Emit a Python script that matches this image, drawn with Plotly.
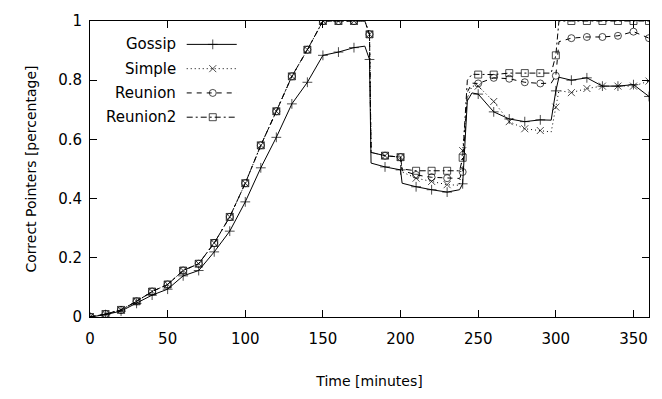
import plotly.graph_objects as go

minutes = [0, 10, 20, 30, 40, 50, 60, 70, 80, 90, 100, 110, 120, 130, 140, 150, 160, 170,
           177, 180, 181, 190, 200, 201, 210, 220, 230, 238, 240, 243, 246, 250, 260, 270,
           280, 290, 297, 300, 302, 310, 320, 330, 340, 350, 360]

gossip = [0, 0.008, 0.02, 0.046, 0.074, 0.094, 0.139, 0.157, 0.22, 0.29, 0.389, 0.504, 0.607,
          0.72, 0.793, 0.884, 0.895, 0.91, 0.915, 0.87, 0.52, 0.507, 0.497, 0.452, 0.44, 0.43,
          0.422, 0.43, 0.45, 0.73, 0.757, 0.753, 0.693, 0.669, 0.66, 0.666, 0.665, 0.764, 0.81,
          0.80, 0.808, 0.78, 0.78, 0.785, 0.745]

simple = [0, 0.01, 0.024, 0.053, 0.086, 0.11, 0.157, 0.18, 0.25, 0.338, 0.452, 0.58, 0.695,
          0.813, 0.903, 1.0, 1.0, 1.0, 1.0, 0.955, 0.556, 0.545, 0.54, 0.49, 0.469, 0.458,
          0.447, 0.445, 0.562, 0.74, 0.78, 0.78, 0.728, 0.66, 0.636, 0.63, 0.625, 0.709, 0.765,
          0.758, 0.772, 0.78, 0.78, 0.78, 0.797]

reunion = [0, 0.01, 0.024, 0.053, 0.086, 0.11, 0.157, 0.18, 0.25, 0.338, 0.452, 0.58, 0.695,
           0.813, 0.903, 1.0, 1.0, 1.0, 1.0, 0.955, 0.556, 0.545, 0.54, 0.495, 0.48, 0.472,
           0.469, 0.468, 0.49, 0.76, 0.79, 0.789, 0.808, 0.805, 0.793, 0.789, 0.79, 0.815, 0.93,
           0.942, 0.946, 0.946, 0.95, 0.964, 0.942]

reunion2 = [0, 0.01, 0.024, 0.053, 0.086, 0.11, 0.157, 0.18, 0.25, 0.338, 0.452, 0.58, 0.695,
            0.813, 0.903, 1.0, 1.0, 1.0, 1.0, 0.955, 0.556, 0.545, 0.54, 0.50, 0.494, 0.494,
            0.494, 0.494, 0.538, 0.80, 0.82, 0.819, 0.819, 0.824, 0.824, 0.824, 0.824, 0.884, 1.0,
            1.0, 1.0, 1.0, 1.0, 1.0, 1.0]

series_names = ["Gossip", "Simple", "Reunion", "Reunion2"]
series_values = [gossip, simple, reunion, reunion2]
x_ticks = [0, 50, 100, 150, 200, 250, 300, 350]
y_ticks = [0, 0.2, 0.4, 0.6, 0.8, 1]

styles = [
    dict(dash="solid", symbol="cross-thin-open"),
    dict(dash="1px,3px", symbol="x-thin-open"),
    dict(dash="5px,5px", symbol="circle-open"),
    dict(dash="6px,3px,2px,3px", symbol="square-open"),
]

FONT = "DejaVu Sans"
marker_sizes = [7 if t % 10 == 0 else 0 for t in minutes]

fig = go.Figure()
for name, vals, st in zip(series_names, series_values, styles):
    fig.add_trace(go.Scatter(
        x=minutes, y=vals, mode="lines+markers", name=name, showlegend=False,
        line=dict(color="black", width=1, dash=st["dash"]),
        marker=dict(symbol=st["symbol"], size=marker_sizes, color="black",
                    line=dict(color="black", width=1)),
    ))

# custom gnuplot-style legend (text left, sample right)
legend_rows = [0.921, 0.839, 0.757, 0.675]
for name, st, yr in zip(series_names, styles, legend_rows):
    fig.add_trace(go.Scatter(
        x=[0.173, 0.2196, 0.2625], y=[yr, yr, yr], xaxis="x2", yaxis="y2",
        mode="lines+markers", showlegend=False, hoverinfo="skip",
        line=dict(color="black", width=1, dash=st["dash"]),
        marker=dict(symbol=st["symbol"], size=[0, 7, 0], color="black",
                    line=dict(color="black", width=1)),
    ))
    fig.add_annotation(x=0.157, y=yr, xref="paper", yref="paper", text=name,
                       showarrow=False, xanchor="right", yanchor="middle",
                       font=dict(family=FONT, size=15, color="black"))

axis_common = dict(showline=True, linecolor="black", linewidth=1, mirror="ticks",
                   ticks="inside", ticklen=7, tickcolor="black", tickwidth=1,
                   showgrid=False, zeroline=False,
                   tickfont=dict(family=FONT, size=15, color="black"))

fig.update_layout(
    width=662, height=399,
    margin=dict(l=90, r=12, t=13, b=81),
    paper_bgcolor="white", plot_bgcolor="white",
    xaxis=dict(range=[0, 360], tickvals=x_ticks, ticktext=[str(v) for v in x_ticks],
               ticklabelstandoff=8,
               title=dict(text="Time [minutes]", font=dict(family=FONT, size=14, color="black"),
                          standoff=29),
               **axis_common),
    yaxis=dict(range=[0, 1], tickvals=y_ticks, ticktext=["0", "0.2", "0.4", "0.6", "0.8", "1"],
               ticklabelstandoff=4,
               title=dict(text="Correct Pointers [percentage]",
                          font=dict(family=FONT, size=14, color="black"), standoff=18),
               **axis_common),
    xaxis2=dict(overlaying="x", range=[0, 1], visible=False),
    yaxis2=dict(overlaying="y", range=[0, 1], visible=False),
)

fig.write_html("out.html")
